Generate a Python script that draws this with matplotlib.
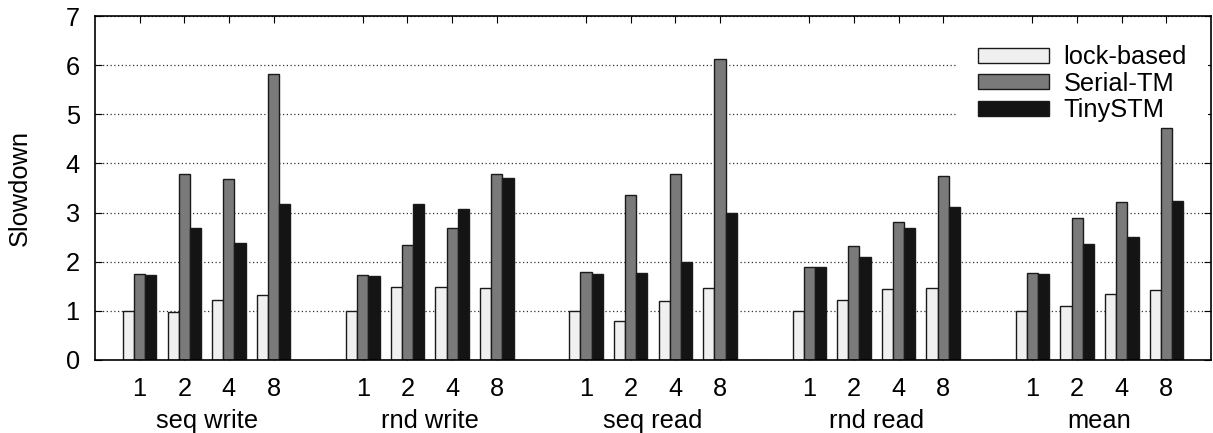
import numpy as np
import matplotlib
matplotlib.use("Agg")
import matplotlib.pyplot as plt

plt.rcParams['font.family'] = ['Liberation Sans', 'DejaVu Sans']

groups = ['seq write', 'rnd write', 'seq read', 'rnd read', 'mean']
threads = ['1', '2', '4', '8']
series = ['lock-based', 'Serial-TM', 'TinySTM']

lock_based = [1.00, 0.98, 1.23, 1.33,
              1.00, 1.48, 1.49, 1.46,
              1.00, 0.79, 1.21, 1.46,
              1.00, 1.23, 1.44, 1.46,
              1.00, 1.09, 1.34, 1.43]
serial_tm = [1.74, 3.79, 3.69, 5.83,
             1.73, 2.34, 2.68, 3.78,
             1.80, 3.36, 3.78, 6.12,
             1.89, 2.33, 2.81, 3.75,
             1.78, 2.88, 3.21, 4.73]
tiny_stm = [1.73, 2.69, 2.39, 3.18,
            1.70, 3.17, 3.08, 3.70,
            1.76, 1.77, 1.99, 3.00,
            1.89, 2.10, 2.69, 3.11,
            1.76, 2.37, 2.51, 3.24]

colors = ['#f0f0f0', '#7a7a7a', '#141414']
fs = 18.3

# positions: 4 slots per group, one empty slot between groups
pos = np.array([g * 5 + t + 1 for g in range(len(groups)) for t in range(len(threads))])

fig = plt.figure(figsize=(12.13, 4.33), dpi=100)
ax = fig.add_axes([0.0783, 0.1686, 0.9201, 0.7944])

w = 0.25
for i, (vals, name) in enumerate(zip([lock_based, serial_tm, tiny_stm], series)):
    ax.bar(pos + (i - 1) * w, vals, width=w, color=colors[i], edgecolor='#1a1a1a',
           linewidth=1.0, label=name, zorder=3)

ax.set_xlim(0, 25)
ax.set_ylim(0, 7)
ax.set_yticks(range(8))
ax.set_xticks(pos)
ax.set_xticklabels(threads * len(groups))
ax.tick_params(direction='in', top=True, right=True, length=5, labelsize=fs)
ax.tick_params(axis='x', pad=12)
ax.tick_params(axis='y', pad=11)
ax.yaxis.grid(True, linestyle=(0, (1, 2)), color='#333333', linewidth=0.9, zorder=1)
ax.set_axisbelow(True)
for s in ax.spines.values():
    s.set_linewidth(1.2)
    s.set_zorder(5)

ax.set_ylabel('Slowdown', fontsize=fs, labelpad=24)

for g, name in enumerate(groups):
    ax.text(g * 5 + 2.5, -0.178, name, transform=ax.get_xaxis_transform(),
            ha='center', va='center', fontsize=fs)

leg = ax.legend(loc='upper right', bbox_to_anchor=(1.0045, 1.0), fontsize=fs, frameon=True,
                fancybox=False, edgecolor='none', facecolor='white', framealpha=1,
                handlelength=2.8, handleheight=0.55, labelspacing=0.1, handletextpad=0.55,
                borderpad=0.85, borderaxespad=0.3)
# legend box hides grid lines but stays under the bars
leg.set_zorder(2)

fig.savefig('out.png', dpi=100)
